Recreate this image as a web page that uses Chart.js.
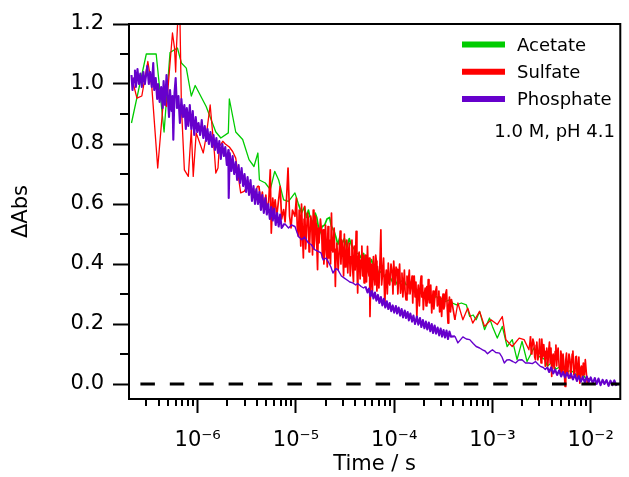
<!DOCTYPE html>
<html>
<head>
<meta charset="utf-8">
<script src="https://cdn.jsdelivr.net/npm/chart.js@4/dist/chart.umd.min.js"></script>
<style>
html,body{margin:0;padding:0;background:#fff;}
canvas{display:block;}
</style>
</head>
<body>
<canvas id="c" width="629" height="477"></canvas>
<script>
// ---------------- DATA ----------------
const seriesNames = ['Acetate', 'Sulfate', 'Phosphate'];
const noteText = '1.0 M, pH 4.1';
const xTitle = 'Time / s';
const yTitle = '\u0394Abs';

const xDecades = [1e-6, 1e-5, 1e-4, 1e-3, 1e-2];
const xTickLabels = ['10\u207B\u2076', '10\u207B\u2075', '10\u207B\u2074', '10\u207B\u00B3', '10\u207B\u00B2'];
const xMinorTicks = [3e-7,4e-7,5e-7,6e-7,7e-7,8e-7,9e-7,
  2e-6,3e-6,4e-6,5e-6,6e-6,7e-6,8e-6,9e-6,
  2e-5,3e-5,4e-5,5e-5,6e-5,7e-5,8e-5,9e-5,
  2e-4,3e-4,4e-4,5e-4,6e-4,7e-4,8e-4,9e-4,
  2e-3,3e-3,4e-3,5e-3,6e-3,7e-3,8e-3,9e-3];
const yMajorTicks = [0, 0.2, 0.4, 0.6, 0.8, 1.0, 1.2];
const yMinorTicks = [0.1, 0.3, 0.5, 0.7, 0.9, 1.1];

const acetateTime = [2.12e-7,3.00e-7,3.78e-7,4.55e-7,5.23e-7,6.22e-7,6.83e-7,7.66e-7,8.61e-7,9.44e-7,
  1.22e-6,1.53e-6,1.72e-6,2.05e-6,2.10e-6,2.44e-6,2.87e-6,3.33e-6,3.74e-6,4.10e-6,4.25e-6,4.88e-6,5.48e-6,6.08e-6,6.67e-6,7.49e-6,8.41e-6,9.77e-6,
  1.06e-5,1.14e-5,1.22e-5,1.28e-5,1.34e-5,1.38e-5,1.43e-5,1.50e-5,1.57e-5,1.63e-5,1.68e-5,1.74e-5,1.85e-5,1.96e-5,2.07e-5,2.20e-5,2.30e-5,2.44e-5,2.55e-5,2.67e-5,
  2.80e-5,2.93e-5,3.11e-5,3.29e-5,3.49e-5,3.70e-5,3.92e-5,4.15e-5,4.35e-5,4.61e-5,4.88e-5,5.11e-5,5.35e-5,5.61e-5,5.87e-5,6.22e-5,6.59e-5,6.91e-5,7.40e-5,7.84e-5,
  8.31e-5,8.71e-5,9.22e-5,9.77e-5,
  1.02e-4,1.07e-4,1.12e-4,1.18e-4,1.25e-4,1.32e-4,1.38e-4,1.48e-4,1.57e-4,1.66e-4,1.74e-4,1.87e-4,1.96e-4,2.07e-4,2.20e-4,2.35e-4,2.52e-4,2.70e-4,2.90e-4,3.11e-4,
  3.33e-4,3.70e-4,3.92e-4,4.30e-4,4.82e-4,5.42e-4,5.87e-4,6.37e-4,6.83e-4,7.40e-4,8.31e-4,9.33e-4,
  1.00e-3,1.12e-3,1.26e-3,1.41e-3,1.59e-3,1.78e-3,2.00e-3,2.25e-3,2.64e-3,2.97e-3,3.45e-3,3.61e-3,3.96e-3,4.45e-3,5.00e-3,5.61e-3,6.30e-3,7.23e-3,8.12e-3,9.12e-3];
const acetateAbs = [0.87,1.10,1.10,0.84,1.105,1.12,1.07,1.053,0.96,0.995,
  0.925,0.84,0.82,0.837,0.95,0.84,0.815,0.748,0.725,0.77,0.68,0.67,0.648,0.709,0.68,0.614,0.609,0.637,
  0.60,0.57,0.59,0.555,0.58,0.56,0.55,0.535,0.57,0.555,0.53,0.50,0.525,0.53,0.55,0.555,0.525,0.51,0.49,0.465,
  0.49,0.465,0.485,0.455,0.485,0.46,0.45,0.435,0.435,0.42,0.435,0.405,0.418,0.395,0.415,0.39,0.39,0.37,0.375,0.36,
  0.365,0.345,0.352,0.335,
  0.35,0.332,0.335,0.342,0.35,0.33,0.335,0.34,0.34,0.318,0.312,0.302,0.298,0.29,0.302,0.287,0.287,0.292,0.278,0.287,
  0.275,0.281,0.27,0.264,0.27,0.264,0.225,0.23,0.214,0.242,0.181,0.22,
  0.192,0.153,0.192,0.125,0.148,0.081,0.142,0.075,0.12,0.092,0.081,0.059,0.07,0.05,0.06,0.04,0.045,0.03,0.035,0.015];

const sulfateTime = [
  2.12e-7,2.41e-7,2.70e-7,3.11e-7,3.41e-7,3.92e-7,4.50e-7,4.82e-7,5.54e-7,5.81e-7,
  5.97e-7,6.08e-7,6.37e-7,6.59e-7,6.83e-7,7.32e-7,8.03e-7,8.61e-7,9.01e-7,9.66e-7,
  1.14e-6,1.22e-6,1.34e-6,1.48e-6,1.53e-6,1.61e-6,1.66e-6,1.80e-6,1.91e-6,2.10e-6,
  2.27e-6,2.44e-6,2.74e-6,2.97e-6,3.11e-6,3.33e-6,3.61e-6,3.74e-6,4.06e-6,4.20e-6,
  4.40e-6,4.55e-6,4.71e-6,4.94e-6,5.11e-6,5.29e-6,5.48e-6,5.61e-6,5.81e-6,5.94e-6,
  6.15e-6,6.37e-6,6.59e-6,6.91e-6,7.15e-6,7.49e-6,7.75e-6,8.03e-6,8.31e-6,8.61e-6,
  8.91e-6,9.22e-6,9.77e-6,
  1.01e-5,1.035e-5,1.06e-5,1.08e-5,1.10e-5,1.12e-5,1.14e-5,1.165e-5,1.19e-5,1.21e-5,
  1.23e-5,1.255e-5,1.28e-5,1.31e-5,1.34e-5,1.36e-5,1.38e-5,1.415e-5,1.45e-5,1.475e-5,
  1.50e-5,1.525e-5,1.55e-5,1.58e-5,1.61e-5,1.635e-5,1.66e-5,1.69e-5,1.72e-5,1.775e-5,
  1.83e-5,1.86e-5,1.89e-5,1.925e-5,1.96e-5,2.00e-5,2.05e-5,2.085e-5,2.12e-5,2.16e-5,
  2.20e-5,2.25e-5,2.30e-5,2.34e-5,2.38e-5,2.45e-5,2.52e-5,2.565e-5,2.61e-5,2.69e-5,
  2.77e-5,2.82e-5,2.87e-5,2.935e-5,3.00e-5,3.055e-5,3.11e-5,3.165e-5,3.22e-5,3.295e-5,
  3.37e-5,3.43e-5,3.49e-5,3.57e-5,3.65e-5,3.715e-5,3.78e-5,3.85e-5,3.92e-5,4.01e-5,
  4.10e-5,4.175e-5,4.25e-5,4.325e-5,4.40e-5,4.50e-5,4.61e-5,4.69e-5,4.77e-5,4.855e-5,
  4.94e-5,5.025e-5,5.11e-5,5.23e-5,5.35e-5,5.445e-5,5.54e-5,5.605e-5,5.67e-5,5.77e-5,
  5.87e-5,6.01e-5,6.15e-5,6.26e-5,6.37e-5,6.48e-5,6.59e-5,6.67e-5,6.75e-5,6.87e-5,
  6.99e-5,7.15e-5,7.32e-5,7.45e-5,7.58e-5,7.80e-5,8.03e-5,8.17e-5,8.31e-5,8.51e-5,
  8.71e-5,8.86e-5,9.01e-5,9.28e-5,9.55e-5,9.72e-5,9.89e-5,
  1.02e-4,1.045e-4,1.07e-4,1.09e-4,1.11e-4,1.135e-4,1.16e-4,1.18e-4,1.20e-4,1.225e-4,
  1.25e-4,1.27e-4,1.29e-4,1.32e-4,1.35e-4,1.375e-4,1.40e-4,1.425e-4,1.45e-4,1.485e-4,
  1.52e-4,1.545e-4,1.57e-4,1.60e-4,1.63e-4,1.665e-4,1.70e-4,1.73e-4,1.76e-4,1.805e-4,
  1.85e-4,1.88e-4,1.91e-4,1.945e-4,1.98e-4,2.025e-4,2.07e-4,2.11e-4,2.15e-4,2.185e-4,
  2.22e-4,2.26e-4,2.30e-4,2.355e-4,2.41e-4,2.45e-4,2.49e-4,2.535e-4,2.58e-4,2.64e-4,
  2.70e-4,2.75e-4,2.80e-4,2.85e-4,2.90e-4,2.97e-4,3.04e-4,3.09e-4,3.14e-4,3.20e-4,
  3.26e-4,3.335e-4,3.41e-4,3.47e-4,3.53e-4,3.59e-4,3.65e-4,3.74e-4,3.83e-4,
  4.15e-4,4.45e-4,5.00e-4,5.61e-4,6.30e-4,7.40e-4,8.31e-4,9.66e-4,
  1.12e-3,1.26e-3,1.37e-3,1.59e-3,1.87e-3,2.10e-3,2.35e-3,
  2.44e-3,2.48e-3,2.52e-3,2.58e-3,2.64e-3,2.69e-3,2.74e-3,2.785e-3,2.83e-3,2.90e-3,
  2.97e-3,3.02e-3,3.07e-3,3.125e-3,3.18e-3,3.255e-3,3.33e-3,3.39e-3,3.45e-3,3.51e-3,
  3.57e-3,3.655e-3,3.74e-3,3.805e-3,3.87e-3,3.94e-3,4.01e-3,4.08e-3,4.15e-3,4.25e-3,
  4.35e-3,4.425e-3,4.50e-3,4.58e-3,4.66e-3,4.77e-3,4.88e-3,4.965e-3,5.05e-3,5.14e-3,
  5.23e-3,5.355e-3,5.48e-3,5.575e-3,5.67e-3,5.77e-3,5.87e-3,6.01e-3,6.15e-3,6.26e-3,
  6.37e-3,6.48e-3,6.59e-3,6.75e-3,6.91e-3,7.03e-3,7.15e-3,7.275e-3,7.40e-3,7.575e-3,
  7.75e-3,7.89e-3,8.03e-3,8.22e-3,8.41e-3,8.61e-3,8.81e-3,9.01e-3,9.22e-3,9.55e-3];
const sulfateAbs = [
  1.025,0.953,0.96,1.075,0.992,0.72,0.953,0.925,1.17,1.12,
  1.04,1.12,1.26,1.23,0.925,0.714,0.692,0.848,0.692,0.837,
  0.77,0.825,0.93,0.77,0.703,0.72,0.792,0.809,0.80,0.79,
  0.775,0.753,0.637,0.642,0.653,0.67,0.62,0.625,0.659,0.66,
  0.60,0.64,0.58,0.63,0.57,0.61,0.714,0.503,0.62,0.58,
  0.614,0.56,0.60,0.659,0.55,0.581,0.54,0.62,0.72,0.56,
  0.52,0.58,0.559,
  0.62,0.51,0.492,0.58,0.542,0.46,0.60,0.50,0.42,0.55,
  0.592,0.45,0.498,0.57,0.55,0.44,0.47,0.56,0.525,0.43,
  0.58,0.45,0.48,0.56,0.53,0.45,0.381,0.52,0.47,0.55,
  0.503,0.42,0.514,0.40,0.44,0.53,0.437,0.39,0.525,0.42,
  0.48,0.40,0.57,0.45,0.44,0.52,0.325,0.45,0.47,0.38,
  0.459,0.51,0.40,0.48,0.437,0.36,0.50,0.39,0.40,0.48,
  0.37,0.44,0.47,0.36,0.425,0.48,0.38,0.34,0.46,0.38,
  0.509,0.40,0.303,0.42,0.44,0.35,0.414,0.46,0.36,0.43,
  0.337,0.40,0.43,0.34,0.459,0.38,0.36,0.42,0.225,0.35,
  0.40,0.31,0.425,0.36,0.33,0.43,0.41,0.31,0.392,0.35,
  0.32,0.40,0.514,0.33,0.36,0.42,0.259,0.35,0.38,0.30,
  0.403,0.34,0.33,0.40,0.37,0.30,0.41,
  0.33,0.39,0.381,0.30,0.35,0.40,0.303,0.33,0.37,0.29,
  0.34,0.38,0.31,0.28,0.36,0.30,0.348,0.38,0.30,0.33,
  0.36,0.27,0.337,0.36,0.29,0.34,0.225,0.30,0.33,0.26,
  0.337,0.36,0.29,0.33,0.248,0.30,0.32,0.26,0.325,0.27,
  0.348,0.29,0.27,0.33,0.237,0.28,0.31,0.25,0.28,0.31,
  0.325,0.26,0.27,0.31,0.24,0.29,0.225,0.27,0.30,0.25,
  0.26,0.30,0.314,0.25,0.203,0.26,0.29,0.24,0.281,
  0.214,0.27,0.214,0.253,0.203,0.242,0.192,0.214,
  0.198,0.225,0.148,0.125,0.153,0.148,0.114,
  0.159,0.10,0.12,0.15,0.137,0.09,0.081,0.13,0.14,0.08,
  0.103,0.15,0.114,0.07,0.15,0.09,0.131,0.10,0.059,0.11,
  0.12,0.06,0.114,0.14,0.07,0.12,0.025,0.09,0.10,0.05,
  0.109,0.13,0.06,0.10,0.12,0.06,0.037,0.11,0.09,0.04,
  0.10,0.06,-0.008,0.08,0.103,0.03,0.05,0.10,0.08,0.02,
  0.059,0.10,0.11,0.03,0.04,0.09,0.092,0.02,0.05,0.09,
  0.003,0.05,0.06,0.02,0.07,0.03,0.081,0.04,0.003,0.02];

const phosphateTime = [2.12e-7,2.17e-7,2.25e-7,2.30e-7,2.35e-7,2.44e-7,2.52e-7,2.61e-7,2.70e-7,2.80e-7,2.90e-7,3.00e-7,3.07e-7,3.18e-7,3.29e-7,3.41e-7,3.53e-7,3.61e-7,3.74e-7,3.87e-7,
  3.96e-7,4.10e-7,4.25e-7,4.40e-7,4.50e-7,4.66e-7,4.82e-7,5.00e-7,5.11e-7,5.23e-7,5.42e-7,5.54e-7,5.65e-7,5.81e-7,5.97e-7,6.15e-7,6.37e-7,6.59e-7,6.83e-7,7.07e-7,
  7.32e-7,7.58e-7,7.75e-7,8.03e-7,8.31e-7,8.61e-7,8.91e-7,9.22e-7,9.55e-7,9.89e-7,
  1.02e-6,1.06e-6,1.10e-6,1.14e-6,1.18e-6,1.22e-6,1.26e-6,1.30e-6,1.35e-6,1.40e-6,1.45e-6,1.50e-6,1.55e-6,1.61e-6,1.66e-6,1.72e-6,1.78e-6,1.85e-6,1.91e-6,1.98e-6,
  2.05e-6,2.07e-6,2.12e-6,2.20e-6,2.27e-6,2.35e-6,2.44e-6,2.52e-6,2.61e-6,2.70e-6,2.80e-6,2.90e-6,3.00e-6,3.11e-6,3.22e-6,3.33e-6,3.45e-6,3.57e-6,3.70e-6,3.83e-6,
  3.96e-6,4.10e-6,4.25e-6,4.40e-6,4.55e-6,4.71e-6,4.88e-6,5.05e-6,5.23e-6,5.42e-6,5.61e-6,5.81e-6,6.01e-6,6.22e-6,6.44e-6,6.67e-6,6.91e-6,7.15e-6,7.66e-6,8.41e-6,
  9.01e-6,9.77e-6,
  1.06e-5,1.15e-5,1.22e-5,1.34e-5,1.43e-5,1.55e-5,1.68e-5,1.80e-5,1.89e-5,2.03e-5,2.12e-5,2.27e-5,2.38e-5,2.55e-5,2.67e-5,2.90e-5,3.11e-5,3.37e-5,3.53e-5,3.78e-5,
  4.06e-5,4.25e-5,4.61e-5,4.88e-5,5.11e-5,5.35e-5,5.54e-5,5.74e-5,5.94e-5,6.15e-5,6.37e-5,6.59e-5,6.83e-5,7.07e-5,7.32e-5,7.58e-5,7.84e-5,8.12e-5,8.41e-5,8.71e-5,
  9.01e-5,9.33e-5,9.66e-5,
  1.00e-4,1.04e-4,1.07e-4,1.11e-4,1.15e-4,1.19e-4,1.23e-4,1.28e-4,1.32e-4,1.37e-4,1.41e-4,1.46e-4,1.52e-4,1.57e-4,1.63e-4,1.70e-4,1.76e-4,1.83e-4,1.89e-4,1.96e-4,
  2.03e-4,2.10e-4,2.17e-4,2.25e-4,2.33e-4,2.41e-4,2.49e-4,2.58e-4,2.67e-4,2.77e-4,2.87e-4,2.97e-4,3.07e-4,3.18e-4,3.29e-4,3.41e-4,3.53e-4,3.65e-4,3.78e-4,4.15e-4,
  4.45e-4,5.00e-4,5.42e-4,5.87e-4,6.37e-4,6.83e-4,7.40e-4,7.94e-4,8.41e-4,8.91e-4,9.44e-4,
  1.00e-3,1.08e-3,1.18e-3,1.25e-3,1.32e-3,1.40e-3,1.48e-3,1.61e-3,1.72e-3,1.85e-3,2.00e-3,2.17e-3,2.35e-3,2.55e-3,2.74e-3,2.93e-3,3.07e-3,3.29e-3,3.45e-3,3.61e-3,
  3.78e-3,3.96e-3,4.15e-3,4.35e-3,4.55e-3,4.77e-3,5.00e-3,5.23e-3,5.48e-3,5.74e-3,6.01e-3,6.30e-3,6.59e-3,6.91e-3,7.23e-3,7.58e-3,7.94e-3,8.31e-3,8.71e-3,9.12e-3,
  9.55e-3,
  1.00e-2,1.05e-2,1.10e-2,1.15e-2,1.20e-2,1.26e-2,1.32e-2,1.38e-2,1.45e-2,1.52e-2,1.59e-2,1.66e-2,1.74e-2,1.83e-2];
const phosphateAbs = [1.03,0.98,1.02,1.045,0.99,1.05,1.00,1.035,0.99,1.04,1.00,1.035,1.06,1.00,1.04,0.99,1.07,0.98,1.02,0.95,
  1.00,0.94,0.99,0.92,1.01,0.93,1.03,0.94,0.89,0.98,0.91,0.96,0.814,0.97,1.02,0.92,0.96,0.87,0.95,0.89,
  0.93,0.85,0.92,0.86,0.93,0.85,0.91,0.83,0.89,0.84,
  0.87,0.83,0.88,0.82,0.86,0.81,0.85,0.80,0.84,0.79,0.83,0.78,0.82,0.77,0.81,0.75,0.80,0.76,0.79,0.73,
  0.78,0.62,0.77,0.71,0.76,0.70,0.74,0.68,0.73,0.67,0.72,0.66,0.70,0.64,0.69,0.63,0.68,0.61,0.66,0.60,
  0.65,0.60,0.64,0.58,0.63,0.57,0.62,0.565,0.60,0.55,0.59,0.545,0.585,0.53,0.57,0.525,0.565,0.52,0.535,0.52,
  0.53,0.525,
  0.492,0.481,0.49,0.47,0.465,0.448,0.442,0.437,0.414,0.42,0.409,0.39,0.37,0.385,0.381,0.36,0.353,0.345,0.34,0.337,
  0.33,0.335,0.325,0.32,0.325,0.305,0.318,0.292,0.31,0.285,0.305,0.278,0.297,0.27,0.29,0.262,0.284,0.255,0.276,0.25,
  0.27,0.243,0.262,
  0.238,0.26,0.235,0.255,0.228,0.25,0.222,0.245,0.22,0.24,0.212,0.235,0.208,0.228,0.20,0.225,0.198,0.22,0.19,0.213,
  0.186,0.208,0.182,0.205,0.176,0.20,0.17,0.195,0.168,0.188,0.162,0.185,0.158,0.18,0.155,0.178,0.15,0.175,0.158,0.159,
  0.137,0.157,0.15,0.148,0.135,0.125,0.12,0.114,0.11,0.101,0.108,
  0.114,0.105,0.103,0.09,0.07,0.08,0.081,0.075,0.07,0.08,0.081,0.07,0.07,0.068,0.075,0.065,0.059,0.055,0.048,0.056,
  0.04,0.055,0.035,0.048,0.03,0.045,0.025,0.04,0.022,0.037,0.02,0.034,0.015,0.031,0.01,0.026,0.008,0.024,0.005,0.025,
  0.006,
  0.022,0.002,0.02,0.0,0.018,-0.004,0.014,0.0,0.013,-0.006,0.011,-0.004,0.012,-0.006];

// ---------------- STYLE ----------------
const FONT = '"DejaVu Sans", "Verdana", sans-serif';
const colors = { Acetate: '#00cc00', Sulfate: '#ff0000', Phosphate: '#6600cc' };
const denseRanges = {
  Acetate: [[1.0e-5, 1.0e-4]],
  Sulfate: [[4.1e-6, 3.9e-4], [2.4e-3, 9.6e-3]],
  Phosphate: [[2.1e-7, 7.2e-6], [5.0e-5, 3.8e-4], [3.5e-3, 2.0e-2]]
};
const lineW = { Acetate: [1.3, 1.7], Sulfate: [1.3, 1.7], Phosphate: [1.4, 2.1] };

function pts(t, v) { return t.map((x, i) => ({ x: x, y: v[i] })); }
function segW(name) {
  return c => {
    const x0 = c.p0.parsed.x;
    const inside = denseRanges[name].some(r => x0 >= r[0] && x0 < r[1]);
    return inside ? lineW[name][1] : lineW[name][0];
  };
}

const decor = {
  id: 'decor',
  afterDatasetsDraw(chart) {
    const { ctx, chartArea: a, scales: { y } } = chart;
    const y0 = y.getPixelForValue(0);
    ctx.save();
    ctx.beginPath();
    ctx.rect(a.left, a.top, a.right - a.left, a.bottom - a.top);
    ctx.clip();
    ctx.strokeStyle = '#000';
    ctx.lineWidth = 3;
    ctx.setLineDash([14.5, 14.9]);
    ctx.lineDashOffset = 18;
    ctx.beginPath();
    ctx.moveTo(a.left, y0);
    ctx.lineTo(a.right, y0);
    ctx.stroke();
    ctx.restore();
  },
  afterDraw(chart) {
    const { ctx, chartArea: a, scales: { x, y } } = chart;
    ctx.save();
    ctx.strokeStyle = '#000';
    ctx.lineWidth = 2;
    ctx.beginPath();
    ctx.moveTo(a.left, a.top); ctx.lineTo(a.right, a.top); ctx.lineTo(a.right, a.bottom + 1);
    ctx.stroke();
    ctx.beginPath();
    xMinorTicks.forEach(v => {
      const px = Math.round(x.getPixelForValue(v));
      ctx.moveTo(px, a.bottom); ctx.lineTo(px, a.bottom + 7);
    });
    yMinorTicks.forEach(v => {
      const py = Math.round(y.getPixelForValue(v));
      ctx.moveTo(a.left, py); ctx.lineTo(a.left - 9, py);
    });
    ctx.stroke();
    const rows = [44.5, 71.8, 99];
    ctx.font = '18px ' + FONT;
    ctx.textBaseline = 'middle';
    ctx.textAlign = 'left';
    ctx.fillStyle = '#000';
    seriesNames.forEach((name, i) => {
      ctx.strokeStyle = colors[name];
      ctx.lineWidth = 6;
      ctx.beginPath();
      ctx.moveTo(462, rows[i]); ctx.lineTo(505, rows[i]);
      ctx.stroke();
      ctx.fillText(name, 517, rows[i] + 1.5);
    });
    ctx.textAlign = 'right';
    ctx.fillText(noteText, 615, 132);
    ctx.restore();
  }
};

function ds(name, t, v, order) {
  return {
    label: name, data: pts(t, v), borderColor: colors[name], borderWidth: lineW[name][0],
    borderJoinStyle: 'round', pointRadius: 0, tension: 0, fill: false, order: order,
    segment: { borderWidth: segW(name) }
  };
}

const ctx = document.getElementById('c').getContext('2d');
new Chart(ctx, {
  type: 'line',
  data: {
    datasets: [
      ds('Acetate', acetateTime, acetateAbs, 3),
      ds('Sulfate', sulfateTime, sulfateAbs, 2),
      ds('Phosphate', phosphateTime, phosphateAbs, 1)
    ]
  },
  options: {
    responsive: false,
    animation: false,
    devicePixelRatio: 1,
    layout: { padding: { left: 0, right: 3, top: 24, bottom: 0 } },
    plugins: { legend: { display: false }, tooltip: { enabled: false } },
    scales: {
      x: {
        type: 'logarithmic',
        min: 2e-7, max: 2e-2,
        afterBuildTicks: s => { s.ticks = xDecades.map(v => ({ value: v })); },
        afterFit: s => { s.height = 78; },
        ticks: {
          autoSkip: false, maxRotation: 0, minRotation: 0,
          color: '#000', padding: 15,
          font: { family: FONT, size: 21, lineHeight: 1.2 },
          callback: (v, i) => xTickLabels[i]
        },
        grid: { display: true, drawOnChartArea: false, drawTicks: true, tickLength: 14, tickWidth: 2, tickColor: '#000' },
        border: { display: true, color: '#000', width: 2 },
        title: { display: true, text: xTitle, color: '#000', font: { family: FONT, size: 21, lineHeight: 1.2 }, padding: { top: 0, bottom: 0 } }
      },
      y: {
        type: 'linear',
        min: -0.05, max: 1.2,
        afterBuildTicks: s => { s.ticks = yMajorTicks.map(v => ({ value: v })); },
        afterFit: s => { s.width = 129; },
        ticks: {
          color: '#000', padding: 9,
          font: { family: FONT, size: 21, lineHeight: 1.2 },
          callback: v => Number(v).toFixed(1)
        },
        grid: { display: true, drawOnChartArea: false, drawTicks: true, tickLength: 16, tickWidth: 2, tickColor: '#000' },
        border: { display: true, color: '#000', width: 2 },
        title: { display: true, text: yTitle, color: '#000', font: { family: FONT, size: 21, lineHeight: 1.2 }, padding: { top: 9, bottom: 0 } }
      }
    }
  },
  plugins: [decor]
});
</script>
</body>
</html>
